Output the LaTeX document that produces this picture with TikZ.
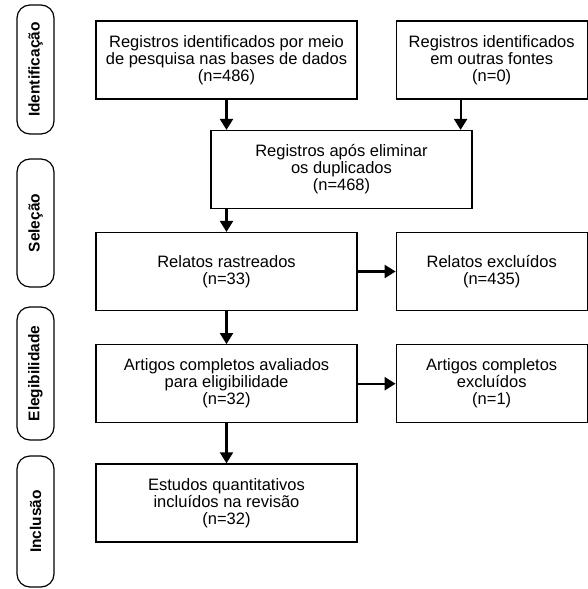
\documentclass[tikz,border=0pt]{standalone}
\usepackage{fontspec}
\setmainfont{Liberation Sans}
\usetikzlibrary{arrows.meta,positioning}

\begin{document}
\begin{tikzpicture}[
    x=1pt,y=-1pt,
    node distance=33pt and 38pt,
    box/.style={draw,line width=1.2pt,align=center,inner sep=0pt,
      font=\fontsize{16.5}{17}\selectfont,
      minimum width=261pt,minimum height=78pt},
    sidebox/.style={box,minimum width=191pt},
    phase/.style={draw,line width=1.2pt,rounded corners=13pt,rotate=90,
      font=\fontsize{15.5}{17}\selectfont\bfseries,inner sep=0pt,
      minimum height=37pt},
    arrow/.style={-{Triangle[length=11pt,width=13pt]},line width=2.2pt}]
    \useasboundingbox (0,0) rectangle (587,589);
    % fases
    \node[phase,minimum width=129pt] (ident) at (35.5,69.5) {Identificação};
    \node[phase,minimum width=128pt] (selec) at (35.5,223) {Seleção};
    \node[phase,minimum width=133pt] (eleg) at (35.5,373.5) {Elegibilidade};
    \node[phase,minimum width=131pt] (incl) at (35.5,521.5) {Inclusão};
    % caixas
    \node[box] (bases) at (226.5,60) {Registros identificados por meio\\
      de pesquisa nas bases de dados\\(n=486)};
    \node[sidebox,right=of bases] (outras) {Registros identificados\\
      em outras fontes\\(n=0)};
    \node[box] (dup) at (341.5,169.5) {Registros após eliminar\\
      os duplicados\\(n=468)};
    \node[box] (rastr) at (226.5,271.5) {Relatos rastreados\\(n=33)};
    \node[sidebox,right=of rastr] (relexcl) {Relatos excluídos\\(n=435)};
    \node[box,below=of rastr] (aval) {Artigos completos avaliados\\
      para eligibilidade\\(n=32)};
    \node[sidebox,right=of aval] (artexcl) {Artigos completos\\
      excluídos\\(n=1)};
    \node[box,below=40pt of aval] (estudos) {Estudos quantitativos\\
      incluídos na revisão\\(n=32)};
    \coordinate[xshift=-12pt] (dupin) at (dup.north east);
    \draw[arrow] (bases)--(bases |- dup.north);
    \draw[arrow] (outras.south -| dupin)--(dupin);
    \draw[arrow] (dup.south -| rastr)--(rastr);
    \draw[arrow] (rastr)--(relexcl);
    \draw[arrow] (rastr)--(aval);
    \draw[arrow] (aval)--(artexcl);
    \draw[arrow] (aval)--(estudos);
  \end{tikzpicture}
\end{document}
